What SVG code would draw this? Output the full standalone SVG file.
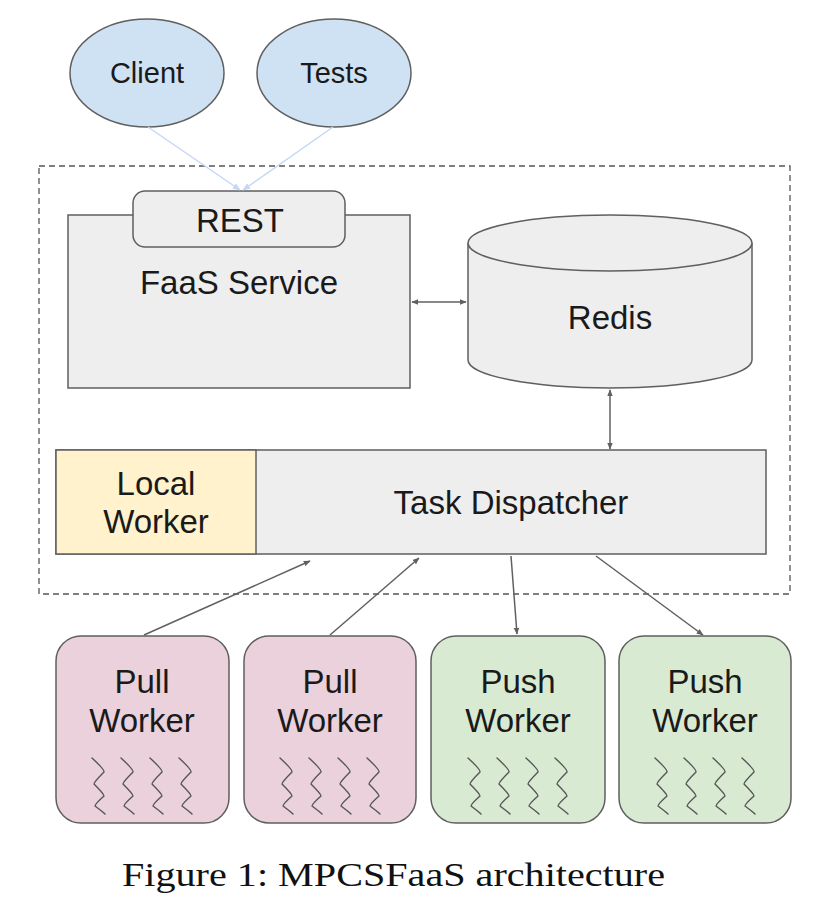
<svg xmlns="http://www.w3.org/2000/svg" width="830" height="924" viewBox="0 0 830 924">
<defs>
<style>
.lbl{font-family:"Liberation Sans",Arial,sans-serif;fill:#1a1a1a;text-anchor:middle}
.big{font-size:33px}
.sm{font-size:29px}
.box{stroke:#5f5f5f;stroke-width:1.5}
.conn{stroke:#606060;stroke-width:1.5;fill:none}
.blue{stroke:#c4d7f8;stroke-width:1.5;fill:none}
.sq{stroke:#555;stroke-width:1.4;fill:none;stroke-linejoin:round;stroke-linecap:round}
</style>
<marker id="ah" viewBox="0 0 10 10" refX="9" refY="5" markerWidth="7" markerHeight="7" orient="auto-start-reverse" markerUnits="userSpaceOnUse">
<path d="M0,1 L10,5 L0,9 z" fill="#606060"/>
</marker>
<marker id="ahb" viewBox="0 0 10 10" refX="9" refY="5" markerWidth="8" markerHeight="8" orient="auto" markerUnits="userSpaceOnUse">
<path d="M0,1 L10,5 L0,9 z" fill="#c4d7f8"/>
</marker>
<path id="zig" d="M0,0 Q13,12 12,14 Q2,24 2,26 Q12,36 12,38 Q3,46 3,48 Q11,54 13,56"/>
<g id="zz">
<use href="#zig" x="0"/>
<use href="#zig" x="29"/>
<use href="#zig" x="58"/>
<use href="#zig" x="87"/>
</g>
</defs>
<rect width="830" height="924" fill="#ffffff"/>

<g id="boundary">
<rect x="39" y="166" width="751" height="428" fill="none" stroke="#555" stroke-width="1.3" stroke-dasharray="6,4"/>
</g>

<g id="client">
<ellipse cx="147" cy="73" rx="77" ry="54" fill="#cfe2f3" class="box"/>
<text class="lbl sm" x="147" y="83">Client</text>
</g>
<g id="tests">
<ellipse cx="334" cy="73" rx="77" ry="54" fill="#cfe2f3" class="box"/>
<text class="lbl sm" x="334" y="83">Tests</text>
</g>

<g id="faas">
<rect x="68" y="215" width="342" height="173" fill="#eeeeee" class="box"/>
<text class="lbl big" x="239" y="294">FaaS Service</text>
</g>
<g id="rest">
<rect x="133" y="191" width="212" height="56" rx="12" fill="#eeeeee" class="box"/>
<text class="lbl big" x="240" y="232">REST</text>
</g>

<g id="redis">
<path d="M468,243 L468,360 A142,28 0 0 0 752,360 L752,243" fill="#eeeeee" class="box"/>
<ellipse cx="610" cy="243" rx="142" ry="28" fill="#eeeeee" class="box"/>
<text class="lbl big" x="610" y="329">Redis</text>
</g>

<g id="dispatcher">
<rect x="56" y="450" width="710" height="104" fill="#eeeeee" class="box"/>
<text class="lbl big" x="511" y="514">Task Dispatcher</text>
</g>
<g id="local">
<rect x="56" y="450" width="200" height="104" fill="#fff2cc" class="box"/>
<text class="lbl big" x="156" y="495">Local</text>
<text class="lbl big" x="156" y="533">Worker</text>
</g>

<g id="pull1">
<rect x="56" y="636" width="173" height="187" rx="25" fill="#ead1dc" class="box"/>
<text class="lbl big" x="142" y="693">Pull</text>
<text class="lbl big" x="142" y="732">Worker</text>
<use href="#zz" x="92" y="758" class="sq"/>
</g>
<g id="pull2">
<rect x="244" y="636" width="172" height="187" rx="25" fill="#ead1dc" class="box"/>
<text class="lbl big" x="330" y="693">Pull</text>
<text class="lbl big" x="330" y="732">Worker</text>
<use href="#zz" x="280" y="758" class="sq"/>
</g>
<g id="push1">
<rect x="431" y="636" width="174" height="187" rx="25" fill="#d9ead3" class="box"/>
<text class="lbl big" x="518" y="693">Push</text>
<text class="lbl big" x="518" y="732">Worker</text>
<use href="#zz" x="468" y="758" class="sq"/>
</g>
<g id="push2">
<rect x="619" y="636" width="172" height="187" rx="25" fill="#d9ead3" class="box"/>
<text class="lbl big" x="705" y="693">Push</text>
<text class="lbl big" x="705" y="732">Worker</text>
<use href="#zz" x="655" y="758" class="sq"/>
</g>

<g id="connectors">
<line class="blue" x1="148" y1="127" x2="240" y2="190" marker-end="url(#ahb)"/>
<line class="blue" x1="333" y1="127" x2="243" y2="190" marker-end="url(#ahb)"/>
<line class="conn" x1="412" y1="302" x2="466" y2="302" marker-start="url(#ah)" marker-end="url(#ah)"/>
<line class="conn" x1="610" y1="390" x2="610" y2="449" marker-start="url(#ah)" marker-end="url(#ah)"/>
<line class="conn" x1="144" y1="635" x2="310" y2="561" marker-end="url(#ah)"/>
<line class="conn" x1="330" y1="635" x2="419" y2="558" marker-end="url(#ah)"/>
<line class="conn" x1="511" y1="556" x2="517" y2="634" marker-end="url(#ah)"/>
<line class="conn" x1="596" y1="556" x2="703" y2="635" marker-end="url(#ah)"/>
</g>

<text x="122" y="886" font-family="'Liberation Serif','Times New Roman',serif" font-size="33" fill="#111" textLength="543" lengthAdjust="spacingAndGlyphs">Figure 1: MPCSFaaS architecture</text>
</svg>
